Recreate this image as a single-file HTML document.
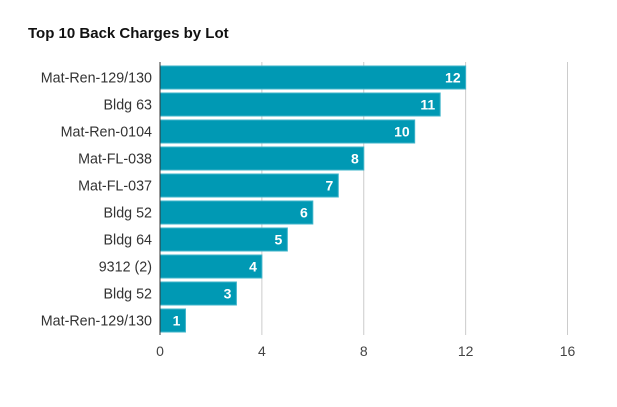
<!DOCTYPE html>
<html><head><meta charset="utf-8"><style>
body{margin:0;background:#fff;font-family:"Liberation Sans",Arial,sans-serif;}
</style></head><body>
<svg width="617" height="402" xmlns="http://www.w3.org/2000/svg">
<text x="28" y="38" font-size="15" font-weight="bold" fill="#111">Top 10 Back Charges by Lot</text>
<g id="grid"></g><g id="bars"></g><g id="labels"></g>
</svg>
<script>
const categories=["Mat-Ren-129/130","Bldg 63","Mat-Ren-0104","Mat-FL-038","Mat-FL-037","Bldg 52","Bldg 64","9312 (2)","Bldg 52","Mat-Ren-129/130"];
const values=[12,11,10,8,7,6,5,4,3,1];
const ticks=[0,4,8,12,16];
const NS="http://www.w3.org/2000/svg";
const x0=160,x1=567.5,max=16,top0=66,pitch=27,bh=23;
const xs=v=>x0+(x1-x0)*v/max;
function mk(t,a,p){const e=document.createElementNS(NS,t);for(const k in a)e.setAttribute(k,a[k]);p.appendChild(e);return e;}
const g=document.getElementById('grid'),b=document.getElementById('bars'),l=document.getElementById('labels');
ticks.forEach(t=>{
 const ln=mk('line',{x1:xs(t),x2:xs(t),y1:62,y2:335,stroke:t===0?'#333':'#ccc','stroke-width':1},g);
 
 
 const tx=mk('text',{x:xs(t),y:356,'font-size':14,fill:'#444','text-anchor':'middle'},l);
 tx.textContent=t;
 
 
});
categories.forEach((c,i)=>{
 const y=top0+i*pitch;
 const r=mk('rect',{x:x0,y:y,width:xs(values[i])-x0,height:bh,fill:'#0099b4',stroke:'#3fb4ca','stroke-width':1},b);
 
 
 const v=mk('text',{x:xs(values[i])-5,y:y+bh/2+5,'font-size':14,'font-weight':'bold',fill:'#fff','text-anchor':'end'},l);
 v.textContent=values[i];
 
 
 const t=mk('text',{x:152,y:y+bh/2+5,'font-size':14.3,fill:'#333','text-anchor':'end'},l);
 t.textContent=c;
 
 
});
const ax=mk('line',{x1:x0,x2:x0,y1:62,y2:335,stroke:'#333','stroke-width':1},l);


</script>
</body></html>
